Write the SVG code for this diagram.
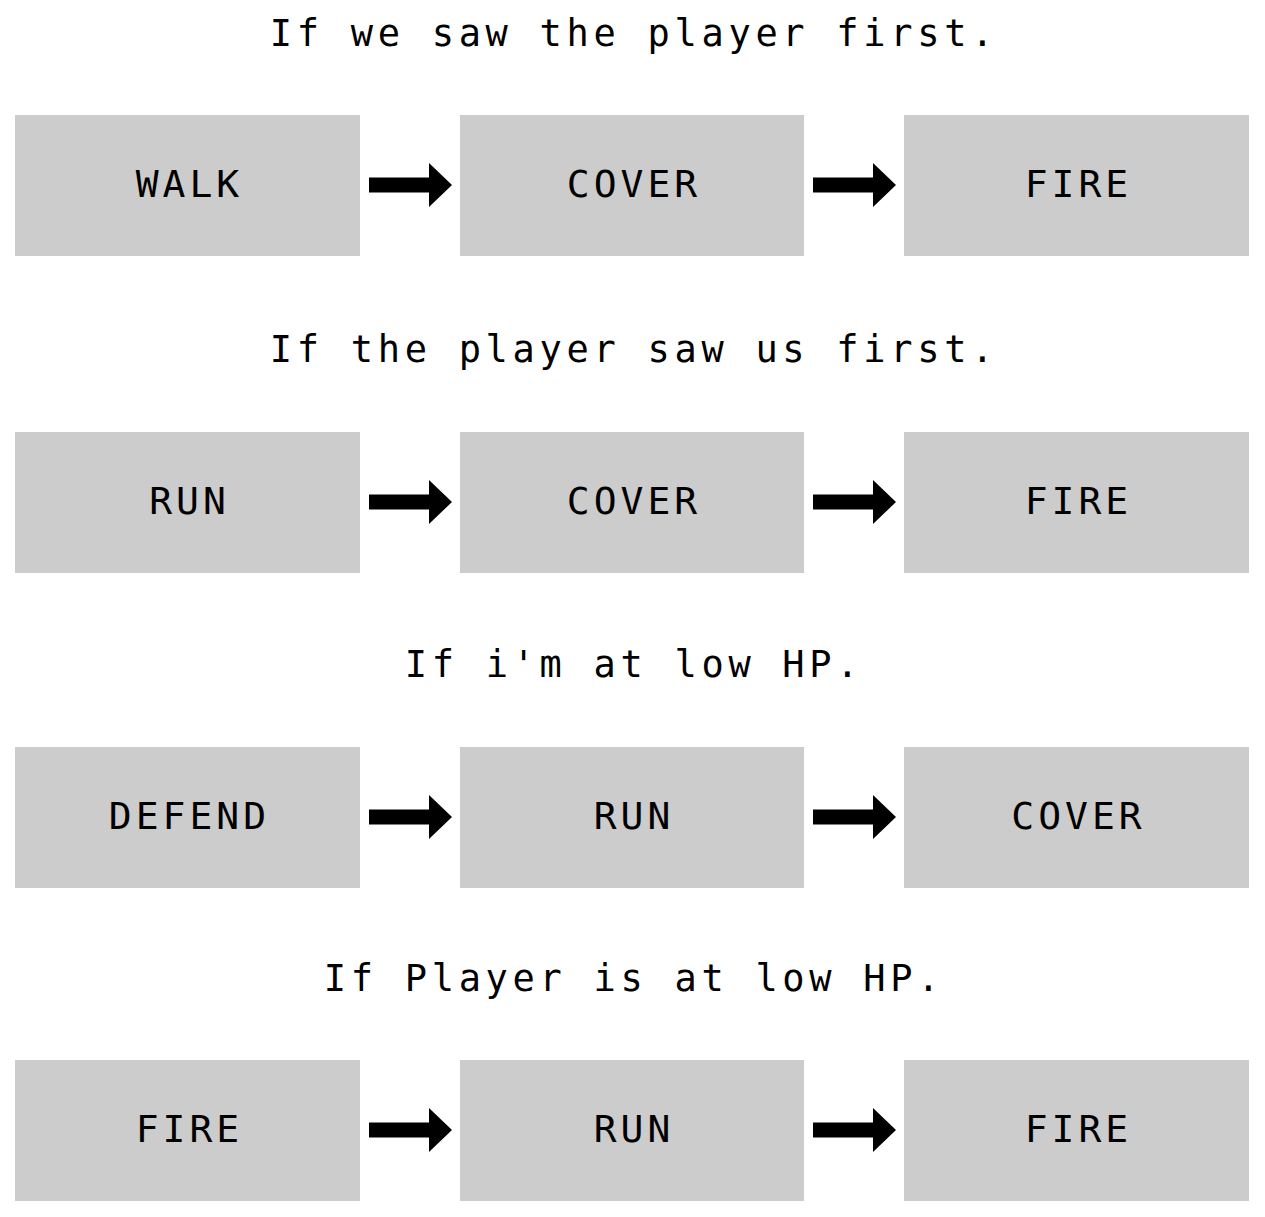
<svg xmlns="http://www.w3.org/2000/svg" xmlns:xlink="http://www.w3.org/1999/xlink" width="1265" height="1217" viewBox="0 0 1265 1217">
<style>
.title{font-family:"DejaVu Sans Mono","Liberation Mono",monospace;font-size:37px;letter-spacing:4.7px;fill:#000;text-anchor:middle}
.box{fill:#cccccc}
.lbl{font-family:"DejaVu Sans Mono","Liberation Mono",monospace;font-size:38px;letter-spacing:4px;fill:#000;text-anchor:middle}
.arr{fill:#000}
</style>
<defs>
<path id="arrow" class="arr" d="M0,-7.5 H60 V-22 L83,0 L60,22 V7.5 H0 Z"/>
</defs>
<rect width="1265" height="1217" fill="#ffffff"/>
<g id="titles">
<text id="t1" class="title" x="634" y="46">If we saw the player first.</text>
<text id="t2" class="title" x="634" y="362">If the player saw us first.</text>
<text id="t3" class="title" x="634" y="677">If i'm at low HP.</text>
<text id="t4" class="title" x="634" y="991">If Player is at low HP.</text>
</g>
<g id="row1">
<g id="r1a"><rect class="box" x="15" y="115" width="345" height="141"/><text class="lbl" x="189.5" y="197">WALK</text></g>
<g id="r1b"><rect class="box" x="460" y="115" width="344" height="141"/><text class="lbl" x="634" y="197">COVER</text></g>
<g id="r1c"><rect class="box" x="904" y="115" width="345" height="141"/><text class="lbl" x="1078.5" y="197">FIRE</text></g>
</g>
<g id="row2">
<g id="r2a"><rect class="box" x="15" y="432" width="345" height="141"/><text class="lbl" x="189.5" y="514">RUN</text></g>
<g id="r2b"><rect class="box" x="460" y="432" width="344" height="141"/><text class="lbl" x="634" y="514">COVER</text></g>
<g id="r2c"><rect class="box" x="904" y="432" width="345" height="141"/><text class="lbl" x="1078.5" y="514">FIRE</text></g>
</g>
<g id="row3">
<g id="r3a"><rect class="box" x="15" y="747" width="345" height="141"/><text class="lbl" x="189.5" y="829">DEFEND</text></g>
<g id="r3b"><rect class="box" x="460" y="747" width="344" height="141"/><text class="lbl" x="634" y="829">RUN</text></g>
<g id="r3c"><rect class="box" x="904" y="747" width="345" height="141"/><text class="lbl" x="1078.5" y="829">COVER</text></g>
</g>
<g id="row4">
<g id="r4a"><rect class="box" x="15" y="1060" width="345" height="141"/><text class="lbl" x="189.5" y="1142">FIRE</text></g>
<g id="r4b"><rect class="box" x="460" y="1060" width="344" height="141"/><text class="lbl" x="634" y="1142">RUN</text></g>
<g id="r4c"><rect class="box" x="904" y="1060" width="345" height="141"/><text class="lbl" x="1078.5" y="1142">FIRE</text></g>
</g>
<g id="connectors">
<use xlink:href="#arrow" href="#arrow" x="369" y="185"/>
<use xlink:href="#arrow" href="#arrow" x="813" y="185"/>
<use xlink:href="#arrow" href="#arrow" x="369" y="502"/>
<use xlink:href="#arrow" href="#arrow" x="813" y="502"/>
<use xlink:href="#arrow" href="#arrow" x="369" y="817"/>
<use xlink:href="#arrow" href="#arrow" x="813" y="817"/>
<use xlink:href="#arrow" href="#arrow" x="369" y="1130"/>
<use xlink:href="#arrow" href="#arrow" x="813" y="1130"/>
</g>
</svg>
